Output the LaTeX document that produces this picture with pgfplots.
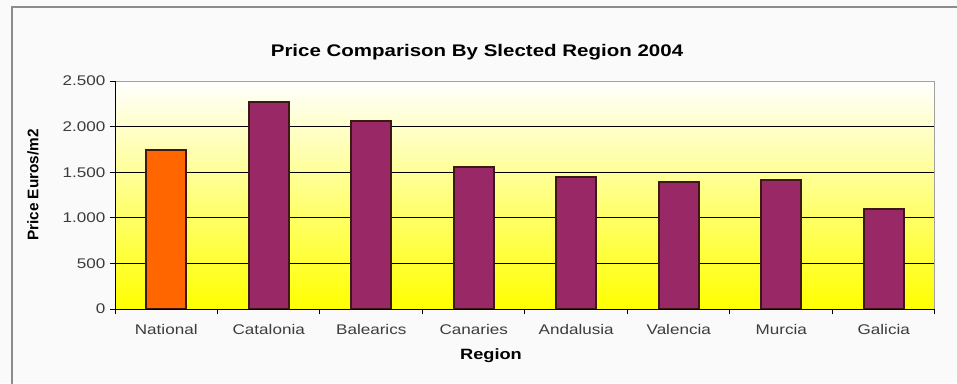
\documentclass[border=0pt]{standalone}
\usepackage{fontspec}
\setmainfont[FakeStretch=1.22]{Liberation Sans}
\newfontfamily\ylabelfont{Liberation Sans}
\usepackage{pgfplots}
\pgfplotsset{compat=1.18}

\definecolor{pagebg}{RGB}{250,250,250}
\definecolor{framegray}{RGB}{140,140,140}
\definecolor{national}{RGB}{255,102,0}
\definecolor{region}{RGB}{153,40,102}
\definecolor{baredge}{RGB}{60,25,20}
\definecolor{ticktext}{RGB}{60,60,60}

\begin{document}
\begin{tikzpicture}
% page background and chart frame
\fill[pagebg] (-86.25pt,-55.5pt) rectangle (631.5pt,231.75pt);
\draw[framegray, line width=1.5pt] (-77.25pt,-60pt) -- (-77.25pt,226.5pt) -- (640pt,226.5pt);

\begin{axis}[
  at={(0pt,0pt)}, anchor=south west,
  scale only axis, width=615pt, height=171pt,
  xmin=-0.5, xmax=7.5, ymin=0, ymax=2500,
  ybar, bar width=0.39, bar shift=0pt,
  axis background/.style={shade, top color=white, bottom color={rgb,255:red,255;green,255;blue,0}},
  axis line style={draw={rgb,255:red,160;green,160;blue,160}, line width=0.75pt},
  xtick={0,1,2,3,4,5,6,7},
  xticklabels={National,Catalonia,Balearics,Canaries,Andalusia,Valencia,Murcia,Galicia},
  minor xtick={-0.5,0.5,1.5,2.5,3.5,4.5,5.5,6.5,7.5},
  major x tick style={draw=none},
  ytick={0,500,1000,1500,2000},
  yticklabels={0,500,1.000,1.500,2.000},
  extra y ticks={2500}, extra y tick labels={2.500},
  extra y tick style={grid=none},
  ymajorgrids,
  grid style={black, line width=0.75pt},
  tick align=outside, tick pos=left,
  major tick length=3.75pt, minor tick length=3.75pt,
  tick style={black, line width=0.75pt},
  every tick label/.append style={font=\fontsize{10.5}{12}\selectfont, text=ticktext},
  xticklabel style={yshift=-4.5pt},
  clip=false,
]
\addplot[fill=national, draw=baredge, line width=1.5pt] coordinates {(0,1745)};
\addplot[fill=region, draw=baredge, line width=1.5pt] coordinates {
  (1,2270) (2,2060) (3,1555) (4,1448) (5,1393) (6,1414) (7,1095)};
\draw[black, line width=0.75pt] (rel axis cs:0,0) -- (rel axis cs:1,0);
\draw[black, line width=0.75pt] (rel axis cs:0,0) -- (rel axis cs:0,1);
\end{axis}

% titles
\node[font=\bfseries\fontsize{12.6}{14}\selectfont] at (271.5pt,192.75pt) {Price Comparison By Slected Region 2004};
\node[font=\bfseries\fontsize{11.2}{13}\selectfont] at (282pt,-35.25pt) {Region};
\node[font=\ylabelfont\bfseries\fontsize{11.5}{13}\selectfont, rotate=90] at (-61.5pt,93pt) {Price Euros/m2};

\pgfresetboundingbox
\useasboundingbox (-86.25pt,-55.5pt) rectangle (631.5pt,231.75pt);
\end{tikzpicture}
\end{document}
